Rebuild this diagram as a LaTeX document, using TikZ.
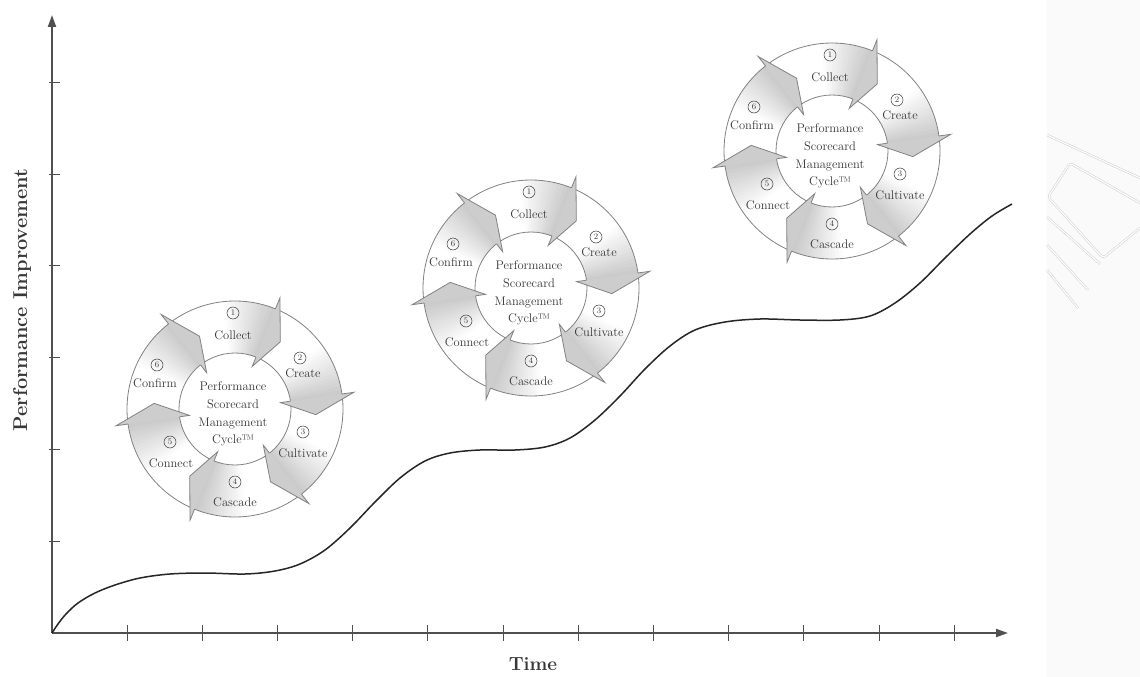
\documentclass[tikz,border=0pt]{standalone}
\usepackage{fontspec}
\usetikzlibrary{arrows.meta}
\definecolor{axisc}{RGB}{80,80,80}
\definecolor{ringc}{RGB}{130,130,130}
\definecolor{txtc}{RGB}{55,55,55}
\definecolor{headc}{RGB}{205,205,205}
\tikzset{
  axisline/.style={line width=2pt, draw=axisc},
  tickline/.style={line width=1pt, draw=axisc},
  curveline/.style={line width=1.5pt, draw=black!85},
  ringline/.style={line width=0.8pt, draw=ringc},
  headline/.style={line width=0.8pt, draw=ringc, line join=miter},
  numc/.style={circle, draw=txtc, line width=0.5pt, inner sep=0pt, minimum size=12pt, font=\fontsize{8.5}{8.5}\selectfont, text=txtc},
  lab/.style={font=\fontsize{12.5}{13}\selectfont, text=txtc, inner sep=0pt},
  ctext/.style={font=\fontsize{12.5}{17.8}\selectfont, text=txtc, align=center, inner sep=0pt},
  axlab/.style={font=\fontsize{20}{22}\selectfont\bfseries\addfontfeatures{LetterSpace=10}, text=black!78, inner sep=0pt},
  wm/.style={draw=black!20, line width=0.5pt, double=white, double distance=1.2pt, rounded corners=3pt},
}
\def\Ro{108}\def\Ri{56}\def\Rho{120}\def\Rhi{46}\def\Rt{81}
\newcommand\PSMcycle[3]{%
\begin{scope}[shift={(#2,-#3)}]
  \foreach \h in {128,68,8,-52,-112,-172}{
    \foreach \k in {0,...,23}{
      \pgfmathsetmacro\angA{\h+48-2*\k}
      \pgfmathsetmacro\angB{\angA-2.4}
      \pgfmathsetmacro\gval{max(0,42*((\k+0.5)/24-0.4)/0.6)}
      \fill[gray!\gval] (\angA:\Ro) arc[start angle=\angA,end angle=\angB,radius=\Ro] -- (\angB:\Ri) arc[start angle=\angB,end angle=\angA,radius=\Ri] -- cycle;
    }
  }
  \draw[ringline] (0,0) circle[radius=\Ro];
  \draw[ringline] (0,0) circle[radius=\Ri];
  \foreach \h in {128,68,8,-52,-112,-172}{
    \pgfmathsetmacro\tp{\h-12}
    \fill[headc] (\h:\Rho) -- (\tp:\Rt) -- (\h:\Rhi) -- cycle;
    \draw[headline] (\h:\Ro) -- (\h:\Rho) -- (\tp:\Rt) -- (\h:\Rhi) -- (\h:\Ri);
  }
  \node[ctext] (#1c) at (-2,-5) {Performance\\Scorecard\\Management\\Cycle\texttrademark};
  \node[numc] (#1n1) at (-2,96) {1};
  \node[lab]  (#1l1) at (-2,74) {Collect};
  \node[numc] (#1n2) at (65,51) {2};
  \node[lab]  (#1l2) at (68,36) {Create};
  \node[numc] (#1n3) at (68,-23) {3};
  \node[lab]  (#1l3) at (68,-44) {Cultivate};
  \node[numc] (#1n4) at (0,-73) {4};
  \node[lab]  (#1l4) at (0,-93) {Cascade};
  \node[numc] (#1n5) at (-65,-33) {5};
  \node[lab]  (#1l5) at (-64,-54) {Connect};
  \node[numc] (#1n6) at (-78,44) {6};
  \node[lab]  (#1l6) at (-80,26) {Confirm};
\end{scope}}
\begin{document}
\begin{tikzpicture}[x=1pt,y=1pt]
\useasboundingbox (0,0) rectangle (1140,-677);
\fill[white] (0,0) rectangle (1140,-677);
% faint watermark at right edge
\fill[black!2] (1047,0) rectangle (1140,-677);
\draw[wm] (1047,-135) -- (1140,-178);
\draw[wm] (1140,-203) -- (1070,-163) -- (1048,-197) -- (1103,-258) -- (1140,-228);
\draw[wm] (1047,-217) -- (1100,-264);
\draw[wm] (1047,-245) -- (1088,-290);
\draw[wm] (1047,-270) -- (1078,-308);
% axes
\coordinate (O) at (52,-633);
\coordinate (Ytop) at (52,-15);
\coordinate (Xend) at (1008,-633);
\foreach \i in {0,...,11}{
  \draw[tickline] (127+75.2*\i,-625) -- ++(0,-16);
}
\foreach \i in {1,...,6}{
  \draw[tickline] (49,-633+91.8*\i) -- ++(11,0);
}
\draw[axisline,-{Triangle[length=12pt,width=8pt]}] (O) -- (Ytop);
\draw[axisline,-{Triangle[length=12pt,width=8pt]}] (O) -- (Xend);
\node[axlab, rotate=90] (ylab) at (22,-300) {Performance Improvement};
\node[axlab, font=\fontsize{19}{21}\selectfont\bfseries\addfontfeatures{LetterSpace=6}] (xlab) at (533,-664) {Time};
% performance curve
\draw[curveline] plot[smooth, tension=0.55] coordinates {
 (52,-633) (58,-624) (66,-614) (78,-603) (95,-593) (115,-585) (140,-578)
 (170,-574) (205,-573) (245,-574) (275,-571) (300,-564) (325,-550)
 (350,-528) (375,-502) (400,-478) (425,-461) (450,-453) (480,-450)
 (515,-450) (545,-447) (570,-438) (595,-420) (620,-396) (645,-369)
 (670,-346) (695,-330) (725,-322) (760,-319) (800,-320) (840,-320)
 (870,-316) (895,-303) (920,-283) (945,-258) (970,-234) (992,-216) (1012,-204)};
% cycles
\PSMcycle{A}{235}{409}
\PSMcycle{B}{531}{288}
\PSMcycle{C}{832}{151}
\end{tikzpicture}
\end{document}
